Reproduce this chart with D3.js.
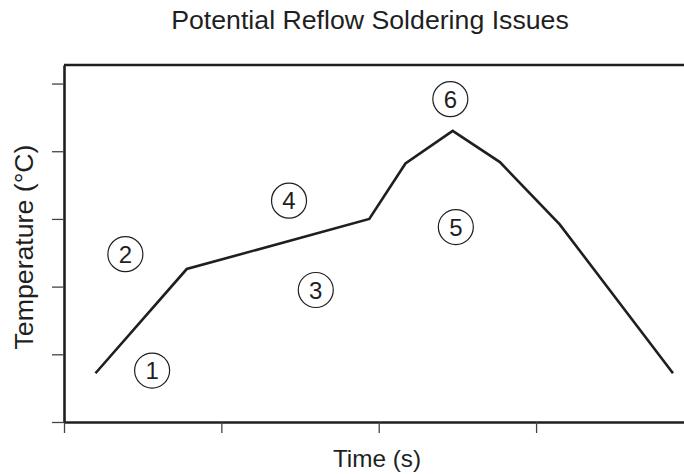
<!DOCTYPE html>
<html>
<head>
<meta charset="utf-8">
<script src="https://cdn.jsdelivr.net/npm/d3@7"></script>
<style>
  html, body { margin: 0; padding: 0; background: #fff; }
  svg { display: block; font-family: "Liberation Sans", Arial, Helvetica, sans-serif; }
</style>
</head>
<body>
<svg id="chart" width="684" height="474"></svg>
<script>
// Reflow temperature profile (time in s, temperature in °C)
const profileTime = [20, 78, 194, 217, 247, 277, 315, 387];
const profileTemp = [36, 113, 150, 191, 215, 192, 146, 36];

// Circled issue markers placed along the profile
const issueIds   = ["1", "2", "3", "4", "5", "6"];
const issueTime  = [56, 39, 160, 143, 249, 245.5];
const issueTemp  = [38, 124, 97.5, 163.5, 144, 238.5];

// Axis tick positions (labels are hidden on this schematic)
const timeTicks = [0, 100, 200, 300];
const tempTicks = [0, 50, 100, 150, 200, 250];

const title = "Potential Reflow Soldering Issues";
const xTitle = "Time (s)";
const yTitle = "Temperature (°C)";

const svg = d3.select("#chart");
const W = 684, H = 474;
const margin = { top: 65, right: 0, bottom: 52, left: 64 };
const innerW = W - margin.left - margin.right;
const innerH = H - margin.top - margin.bottom;

const x = d3.scaleLinear().domain([0, 394]).range([0, innerW]);
const y = d3.scaleLinear().domain([0, 263.7]).range([innerH, 0]);

const g = svg.append("g").attr("transform", `translate(${margin.left},${margin.top})`);

const ink = "#1f1f1f";

// Axes with ticks only
const xAxis = g.append("g")
  .attr("transform", `translate(0,${innerH})`)
  .call(d3.axisBottom(x).tickValues(timeTicks).tickFormat("").tickSize(11).tickSizeOuter(0));
const yAxis = g.append("g")
  .call(d3.axisLeft(y).tickValues(tempTicks).tickFormat("").tickSize(12).tickSizeOuter(0));

[xAxis, yAxis].forEach(a => {
  a.select(".domain").attr("stroke", ink).attr("stroke-width", 2.6);
  a.selectAll(".tick line").attr("stroke", "#444").attr("stroke-width", 1.3);
});

// Top frame line
g.append("line")
  .attr("x1", 0).attr("x2", innerW)
  .attr("y1", y(263.7)).attr("y2", y(263.7))
  .attr("stroke", ink).attr("stroke-width", 2.6);

// Profile line
const profile = profileTime.map((t, i) => ({ t, v: profileTemp[i] }));
g.append("path")
  .datum(profile)
  .attr("fill", "none")
  .attr("stroke", ink)
  .attr("stroke-width", 2.6)
  .attr("stroke-linejoin", "miter")
  .attr("d", d3.line().x(d => x(d.t)).y(d => y(d.v)));

// Circled issue markers
const issues = issueIds.map((id, i) => ({ id, t: issueTime[i], v: issueTemp[i] }));
const marker = g.selectAll(".issue").data(issues).enter().append("g")
  .attr("class", "issue")
  .attr("transform", d => `translate(${x(d.t)},${y(d.v)})`);
marker.append("circle")
  .attr("r", 17.5)
  .attr("fill", "none")
  .attr("stroke", ink)
  .attr("stroke-width", 1.2);
marker.append("text")
  .attr("text-anchor", "middle")
  .attr("dy", "0.36em")
  .attr("font-size", 24)
  .attr("fill", ink)
  .text(d => d.id);

// Titles
svg.append("text")
  .attr("x", 370).attr("y", 29)
  .attr("text-anchor", "middle")
  .attr("font-size", 26.7)
  .attr("fill", ink)
  .text(title);

svg.append("text")
  .attr("x", 377).attr("y", 467)
  .attr("text-anchor", "middle")
  .attr("font-size", 24.3)
  .attr("fill", ink)
  .text(xTitle);

svg.append("text")
  .attr("transform", "translate(33,247) rotate(-90)")
  .attr("text-anchor", "middle")
  .attr("font-size", 26.7)
  .attr("fill", ink)
  .text(yTitle);
</script>
</body>
</html>
